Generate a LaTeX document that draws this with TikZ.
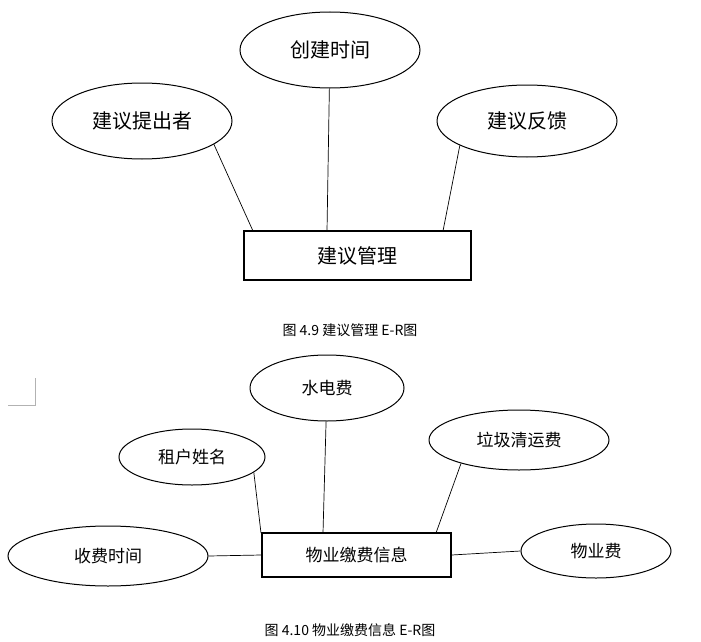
\documentclass[tikz,border=0pt]{standalone}
\usepackage{fontspec}
\setmainfont{Noto Sans CJK SC}
\usetikzlibrary{shapes.geometric}
\begin{document}
\begin{tikzpicture}[x=1pt,y=-1pt,
  ent/.style={draw,ellipse,line width=1pt,inner sep=0pt},
  rel/.style={draw,rectangle,line width=1.3pt,inner sep=0pt},
  captext/.style={font=\fontsize{14}{16}\selectfont},
  conn/.style={line width=0.7pt}]
\useasboundingbox (0,0) rectangle (701,642);
\node[ent,minimum width=180,minimum height=76,font=\fontsize{20}{24}\selectfont] (a1) at (142,121) {建议提出者};
\node[ent,minimum width=180,minimum height=76,font=\fontsize{20}{24}\selectfont] (a2) at (330,50) {创建时间};
\node[ent,minimum width=180,minimum height=72,font=\fontsize{20}{24}\selectfont] (a3) at (527,121) {建议反馈};
\node[rel,minimum width=227,minimum height=49,font=\fontsize{20}{24}\selectfont] (r1) at (357.5,255.5) {建议管理};
\coordinate (p1) at (253,231); \coordinate (p2) at (327,231); \coordinate (p3) at (443,231);
\draw[conn] (a1.-18) -- (p1); \draw[conn] (a2) -- (p2); \draw[conn] (a3.-160) -- (p3);
\node[captext] (c1) at (350,330) {图 4.9 建议管理 E-R图};
\draw[gray!60,line width=0.5pt] (35,378) -- (35,405) -- (8,405);
\node[ent,minimum width=154,minimum height=66,font=\fontsize{17}{20}\selectfont] (b1) at (327,388) {水电费};
\node[ent,minimum width=146,minimum height=56,font=\fontsize{17}{20}\selectfont] (b2) at (192,457) {租户姓名};
\node[ent,minimum width=180,minimum height=60,font=\fontsize{17}{20}\selectfont] (b3) at (519,440) {垃圾清运费};
\node[ent,minimum width=200,minimum height=60,font=\fontsize{17}{20}\selectfont] (b4) at (108,556) {收费时间};
\node[ent,minimum width=150,minimum height=54,font=\fontsize{17}{20}\selectfont] (b5) at (596,551) {物业费};
\node[rel,minimum width=189,minimum height=44,font=\fontsize{17}{20}\selectfont] (r2) at (356.5,555) {物业缴费信息};
\coordinate (q2) at (261,533); \coordinate (q1) at (323,533); \coordinate (q3) at (436,533);
\draw[conn] (b1) -- (q1); \draw[conn] (b2.-14) -- (q2); \draw[conn] (b3.-158) -- (q3);
\draw[conn] (b4.east) -- (r2.west); \draw[conn] (b5.west) -- (r2.east);
\node[captext] (c2) at (350,630) {图 4.10 物业缴费信息 E-R图};
\end{tikzpicture}
\end{document}
